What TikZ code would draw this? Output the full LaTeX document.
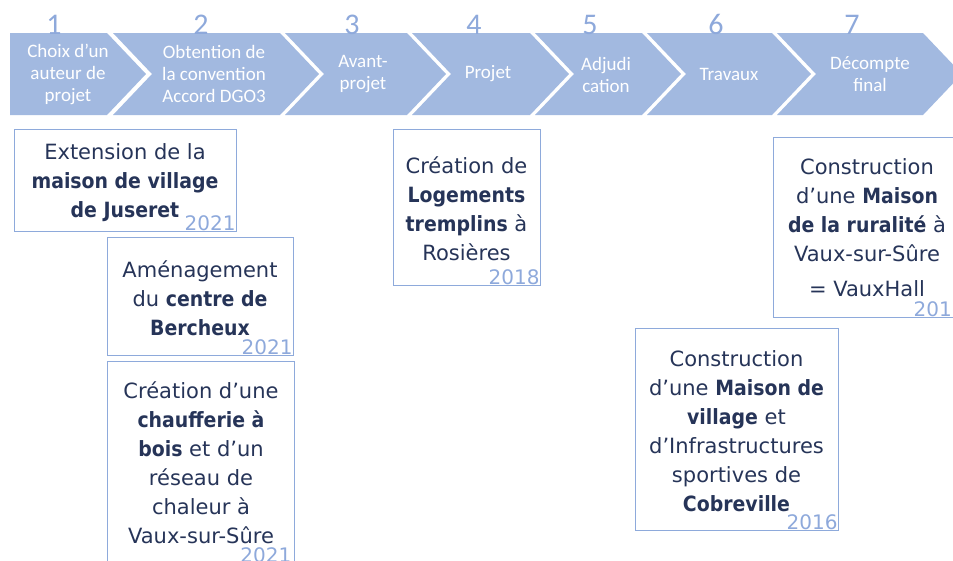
\documentclass[tikz,border=0pt]{standalone}
\usepackage{fontspec}
\setmainfont{DejaVu Sans}[BoldFont={DejaVu Sans Condensed Bold}]
\newfontfamily\chevfont{Carlito}
\newfontfamily\yearfont{DejaVu Sans}
\definecolor{chev}{RGB}{162,185,224}
\definecolor{numcol}{RGB}{142,169,219}
\definecolor{boxline}{RGB}{142,170,219}
\definecolor{boxtxt}{RGB}{38,52,88}
\definecolor{yr}{RGB}{142,169,219}
\tikzset{
 chevshape/.style={fill=chev, draw=none},
 chevtext/.style={text=white, font=\chevfont\fontsize{19}{22}\selectfont, align=center, inner sep=0pt},
 numtext/.style={text=numcol, font=\chevfont\fontsize{30}{30}\selectfont, inner sep=0pt, anchor=base},
 projbox/.style={draw=boxline, line width=1.2pt, inner sep=0pt},
 boxtext/.style={text=boxtxt, font=\fontsize{21}{29}\selectfont, align=center, inner sep=0pt},
 yeartext/.style={text=yr, font=\yearfont\fontsize{20}{20}\selectfont, inner sep=1.5pt, anchor=south east},
}
\begin{document}
\begin{tikzpicture}[x=1pt,y=-1pt]
\useasboundingbox (0,0) rectangle (953,560);
\clip (0,0) rectangle (953,560);
% chevrons
\fill[chevshape] (10,33) -- (107,33) -- (146,74) -- (107,115) -- (10,115) -- cycle;
\foreach \L/\R in {113/280, 285/407, 412/530, 535/642, 647/772, 777/923}{
  \fill[chevshape] (\L,33) -- (\R,33) -- ({\R+39},74) -- (\R,115) -- (\L,115) -- ({\L+39},74) -- cycle;
}
% numbers
\node[numtext] (n1) at (54,34) {1};
\node[numtext] (n2) at (201,34) {2};
\node[numtext] (n3) at (352,34) {3};
\node[numtext] (n4) at (474,34) {4};
\node[numtext] (n5) at (590,34) {5};
\node[numtext] (n6) at (716,34) {6};
\node[numtext] (n7) at (852,34) {7};
% chevron texts
\node[chevtext] (c1) at (68,74) {Choix d’un\\auteur de\\projet};
\node[chevtext] (c2) at (214,74) {Obtention de\\la convention\\Accord DGO3};
\node[chevtext] (c3) at (363,74.5) {Avant-\\projet};
\node[chevtext] (c4) at (488,74) {Projet};
\node[chevtext] (c5) at (606,74.5) {Adjudi\\cation};
\node[chevtext] (c6) at (729,74) {Travaux};
\node[chevtext] (c7) at (870,74.5) {Décompte\\final};
% boxes
\node[projbox, anchor=north west, minimum width=222pt, minimum height=102pt] (boxA) at (14,129) {};
\node[projbox, anchor=north west, minimum width=186pt, minimum height=118pt] (boxB) at (107,237) {};
\node[projbox, anchor=north west, minimum width=187pt, minimum height=214pt] (boxC) at (107,361) {};
\node[projbox, anchor=north west, minimum width=147pt, minimum height=156pt] (boxD) at (393,129) {};
\node[projbox, anchor=north west, minimum width=192pt, minimum height=180pt] (boxE) at (773,137) {};
\node[projbox, anchor=north west, minimum width=203pt, minimum height=202pt] (boxF) at (635,328) {};
% box texts
\node[boxtext] (tA) at (125,183) {Extension de la\\\textbf{maison de village}\\\textbf{de Juseret}};
\node[boxtext] (tB) at (200,298) {Aménagement\\du \textbf{centre de}\\\textbf{Bercheux}};
\node[boxtext] (tC) at (201,463) {Création d’une\\\textbf{chaufferie à}\\\textbf{bois} et d’un\\réseau de\\chaleur à\\Vaux-sur-Sûre};
\node[boxtext] (tD) at (466.5,209) {Création de\\\textbf{Logements}\\\textbf{tremplins} à\\Rosières};
\node[boxtext] (tE) at (867,228) {Construction\\d’une \textbf{Maison}\\\textbf{de la ruralité} à\\Vaux-sur-Sûre\\[6pt]= VauxHall};
\node[boxtext] (tF) at (736.5,431) {Construction\\d’une \textbf{Maison de}\\\textbf{village} et\\d’Infrastructures\\sportives de\\\textbf{Cobreville}};
% years
\node[yeartext] (yA) at (boxA.south east) {2021};
\node[yeartext] (yB) at (boxB.south east) {2021};
\node[yeartext] (yC) at (293,564) {2021};
\node[yeartext] (yD) at (boxD.south east) {2018};
\node[yeartext] (yE) at (boxE.south east) {2016};
\node[yeartext] (yF) at (boxF.south east) {2016};
\end{tikzpicture}
\end{document}
